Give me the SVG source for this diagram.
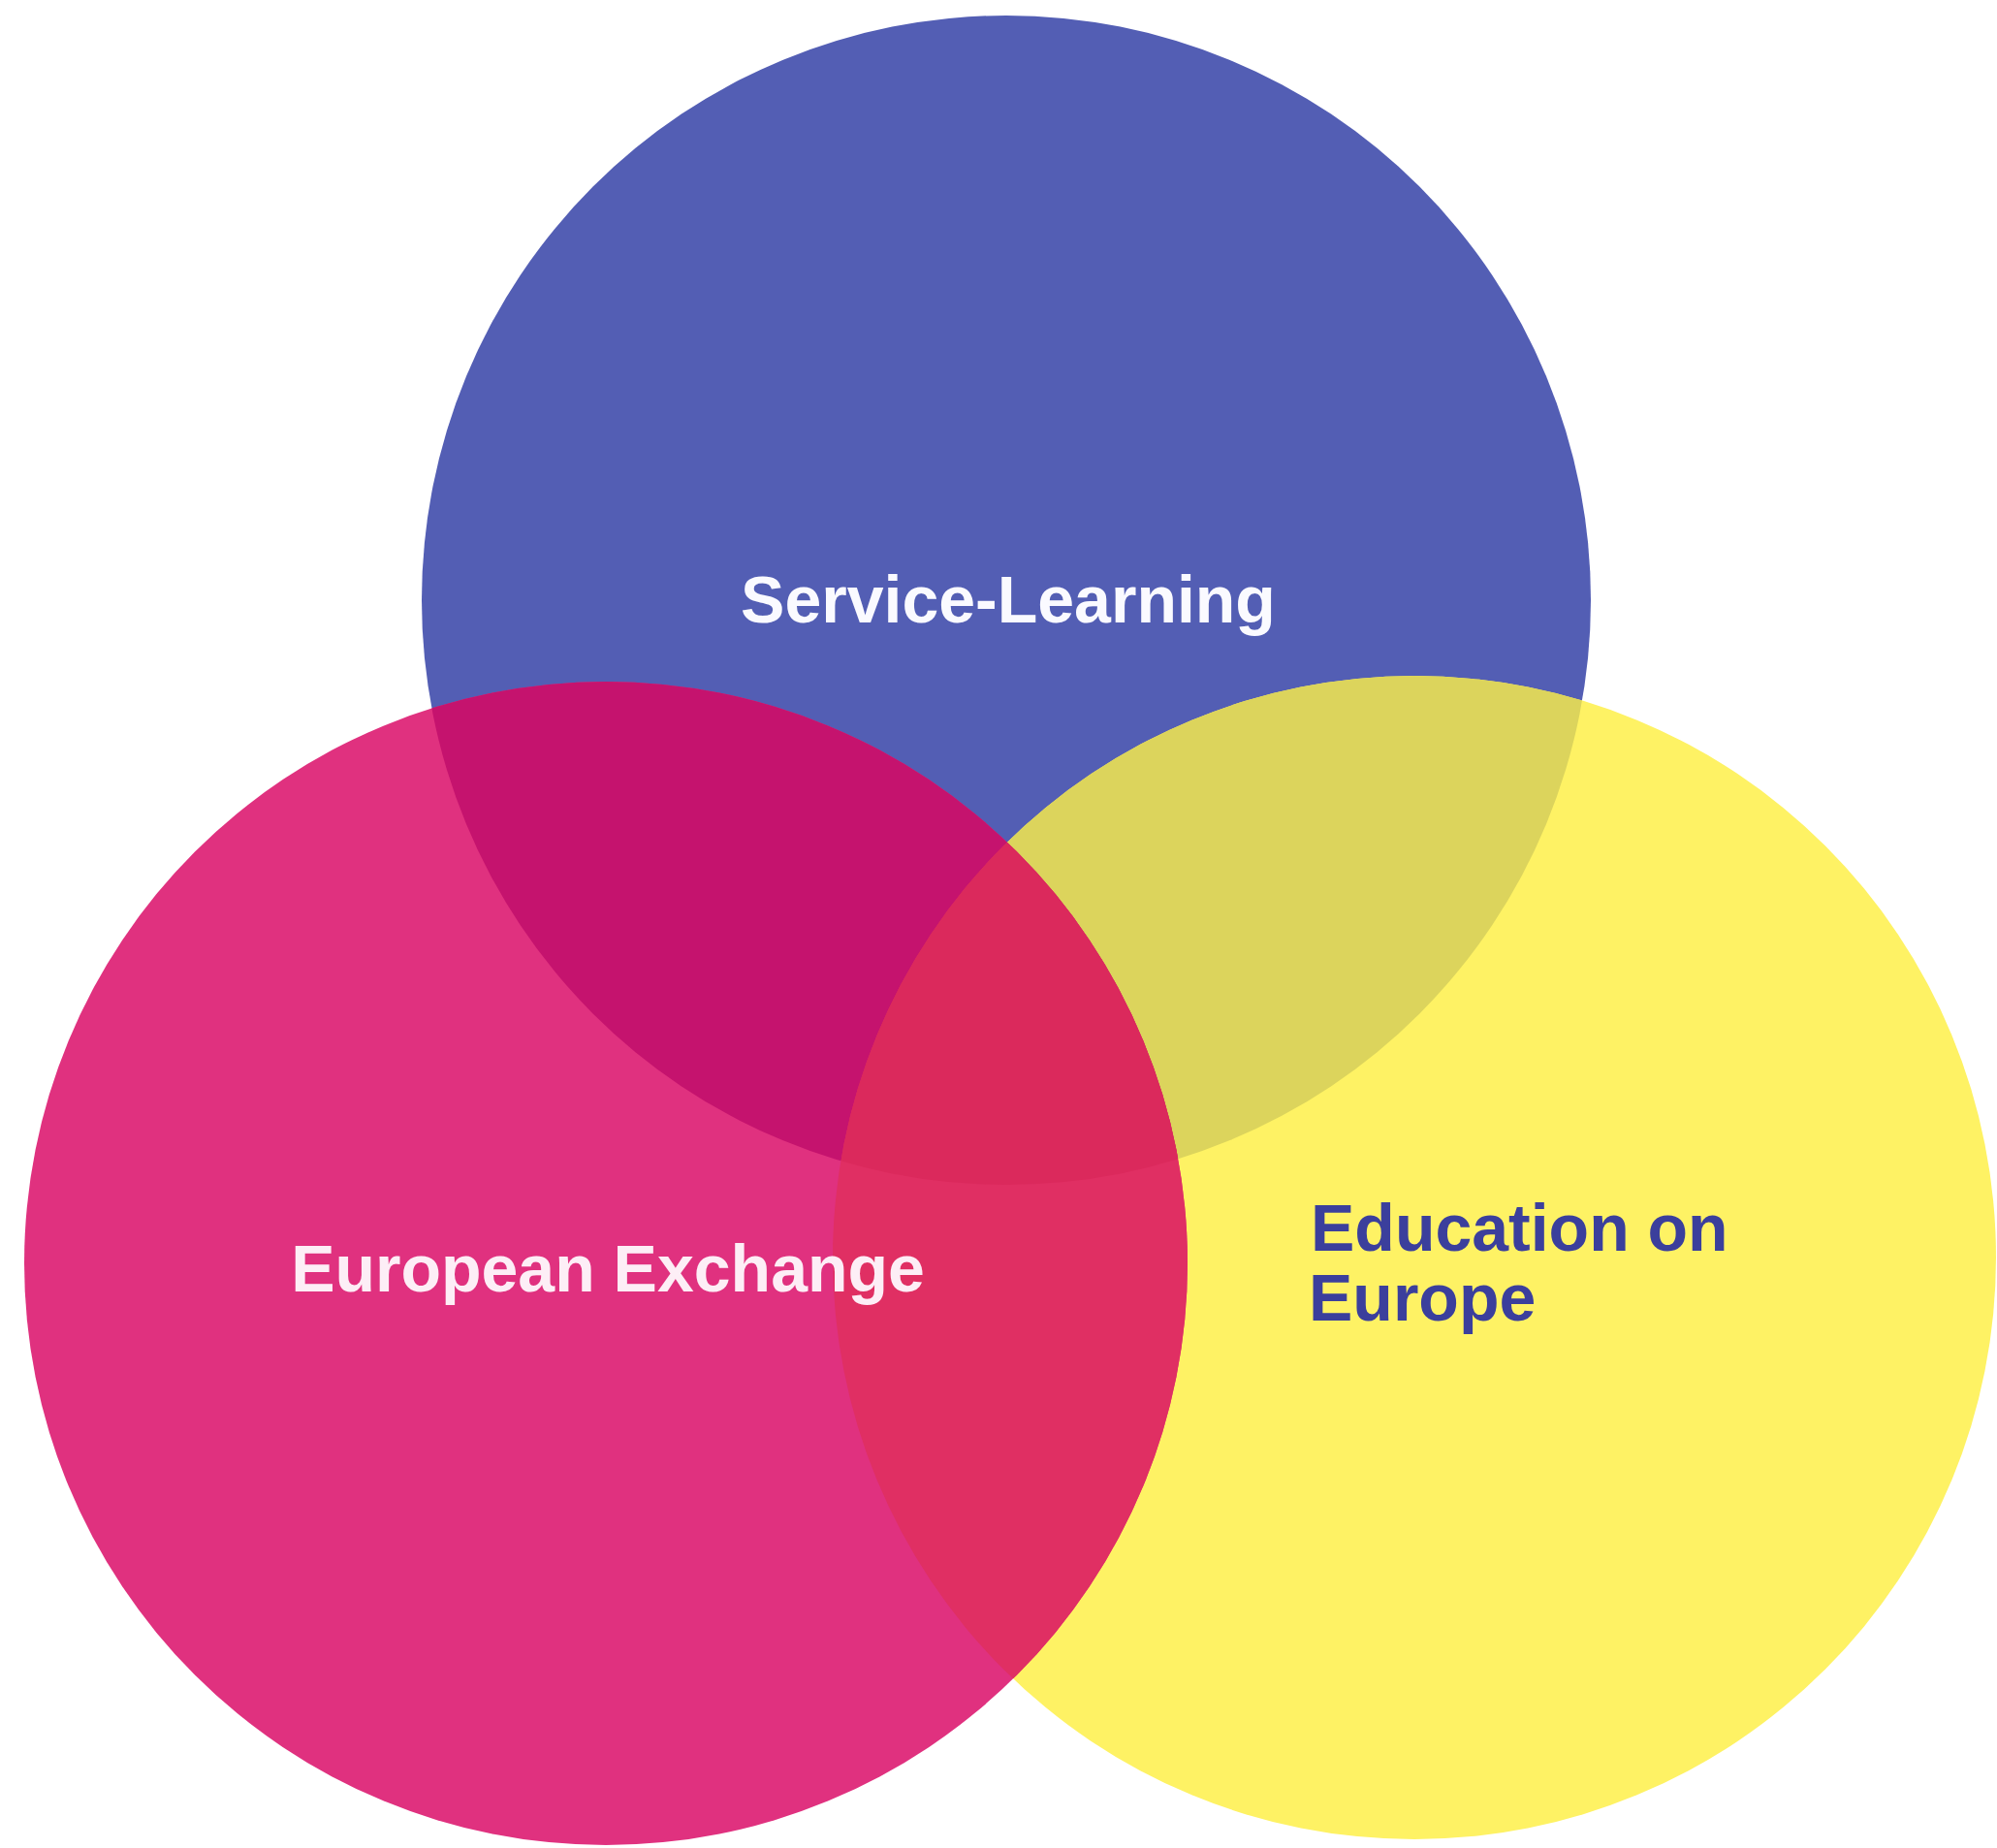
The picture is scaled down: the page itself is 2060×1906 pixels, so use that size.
<svg xmlns="http://www.w3.org/2000/svg" width="2060" height="1906" viewBox="0 0 2060 1906">
  <style>
    .lbl { font-family: "Liberation Sans", Arial, sans-serif; font-weight: bold; font-size: 68px; }
  </style>
  <defs>
    <clipPath id="clipBlue"><circle cx="1038" cy="619" r="603"/></clipPath>
    <clipPath id="clipYellow"><circle cx="1459" cy="1297" r="600"/></clipPath>
    <clipPath id="clipPink"><circle cx="625" cy="1303" r="600"/></clipPath>
  </defs>
  <rect width="2060" height="1906" fill="#ffffff"/>
  <g id="service-learning">
    <circle cx="1038" cy="619" r="603" fill="#535eb4"/>
  </g>
  <g id="education-on-europe">
    <circle cx="1459" cy="1297" r="600" fill="#fef264"/>
  </g>
  <g id="european-exchange">
    <circle cx="625" cy="1303" r="600" fill="#e0317f"/>
  </g>
  <g id="overlaps">
    <g clip-path="url(#clipBlue)">
      <circle cx="1459" cy="1297" r="600" fill="#dcd45c"/>
      <circle cx="625" cy="1303" r="600" fill="#c5136e"/>
    </g>
    <g clip-path="url(#clipYellow)">
      <circle cx="625" cy="1303" r="600" fill="#e02f63"/>
      <g clip-path="url(#clipBlue)">
        <circle cx="625" cy="1303" r="600" fill="#db295c"/>
      </g>
    </g>
  </g>
  <g id="connectors"/>
  <g id="labels">
    <text class="lbl" x="1040" y="642" text-anchor="middle" fill="#fafaff">Service-Learning</text>
    <text class="lbl" x="627" y="1332" text-anchor="middle" fill="#fdeef6">European Exchange</text>
    <text class="lbl" fill="#3b3f9c"><tspan x="1352" y="1290">Education on</tspan><tspan x="1350" y="1362">Europe</tspan></text>
  </g>
</svg>
